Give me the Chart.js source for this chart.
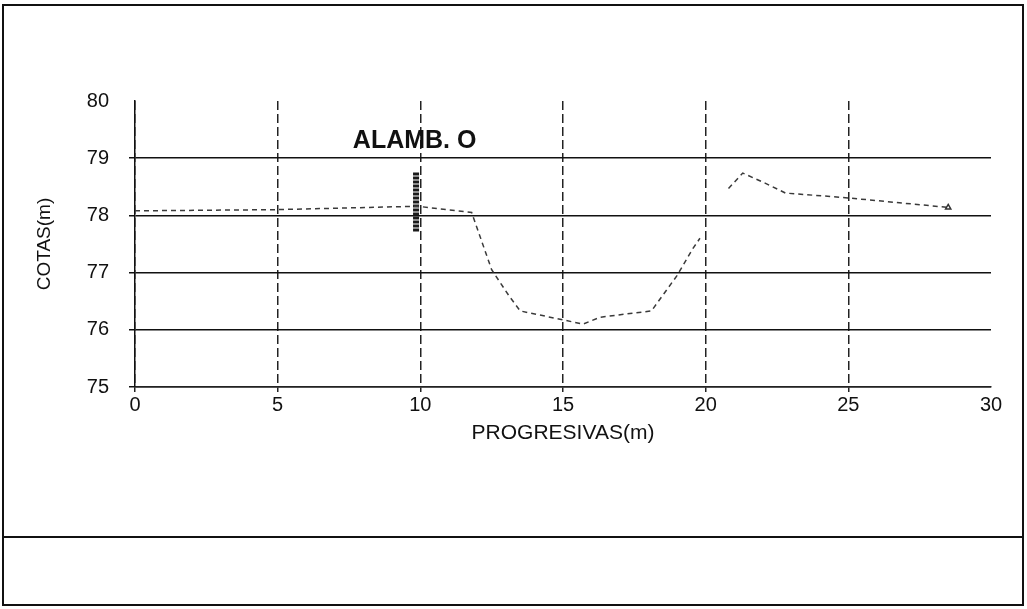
<!DOCTYPE html>
<html>
<head>
<meta charset="utf-8">
<script src="https://cdn.jsdelivr.net/npm/chart.js@4/dist/chart.umd.min.js"></script>
<style>
  html, body { margin: 0; padding: 0; background: #fff; }
  #wrap { position: relative; width: 1027px; height: 609px; }
</style>
</head>
<body>
<div id="wrap"><canvas id="perfil"></canvas></div>
<script>
Chart.defaults.font.family = 'Arial, "Liberation Sans", sans-serif';
Chart.defaults.color = '#111';

// perfil del terreno: progresivas (m) y cotas (m); null = tramo sin dato
var progresivas = [0, 4.9, 9.9, 11.8, 12.5, 13.1, 13.5, 15.7, 16.3, 18.1, 19.0, 19.55, 19.8, 20.3, 20.8, 21.3, 22.1, 22.8, 24.9, 28.5];
var cotas       = [78.08, 78.1, 78.16, 78.05, 77.05, 76.6, 76.33, 76.1, 76.22, 76.33, 76.95, 77.42, 77.6, null, 78.47, 78.74, 78.56, 78.39, 78.31, 78.14];

// alambrado
var alambX = [9.85, 9.85];
var alambY = [77.72, 78.75];
var alambTexto = 'ALAMB. O';
var alambTextoPos = [9.8, 79.3];

var xTicks = [0, 5, 10, 15, 20, 25, 30];
var yTicks = [75, 76, 77, 78, 79, 80];

function pts(xs, ys) {
    return xs.map(function (x, i) { return { x: x, y: ys[i] }; });
}

// marco del dibujo y texto del alambrado
var marco = {
    id: 'marco',
    beforeDraw: function (chart) {
        var c = chart.ctx;
        c.save();
        c.fillStyle = '#fff';
        c.fillRect(0, 0, chart.width, chart.height);
        c.strokeStyle = '#111';
        c.lineWidth = 2;
        c.strokeRect(3, 5, 1020, 600);
        c.beginPath();
        c.moveTo(3, 537);
        c.lineTo(1023, 537);
        c.stroke();
        c.restore();
    },
    afterDraw: function (chart) {
        var c = chart.ctx;
        var xs = chart.scales.x, ys = chart.scales.y;
        c.save();
        c.font = 'bold 25px Arial, "Liberation Sans", sans-serif';
        c.fillStyle = '#111';
        c.textAlign = 'center';
        c.textBaseline = 'middle';
        c.fillText(alambTexto, xs.getPixelForValue(alambTextoPos[0]), ys.getPixelForValue(alambTextoPos[1]));
        c.restore();
    }
};

var ctx = document.getElementById('perfil');
var chart = new Chart(ctx, {
    type: 'line',
    plugins: [marco],
    data: {
        datasets: [
            {
                label: 'Terreno',
                data: pts(progresivas, cotas),
                borderColor: '#3a3a3a',
                borderWidth: 1.5,
                borderDash: [5, 4],
                spanGaps: false,
                pointRadius: function (c) { return c.dataIndex === progresivas.length - 1 ? 3 : 0; },
                pointStyle: 'triangle',
                pointBackgroundColor: '#fff',
                pointBorderColor: '#333',
                tension: 0,
            },
            {
                label: 'Alambrado',
                data: pts(alambX, alambY),
                borderColor: '#1a1a1a',
                borderWidth: 6,
                borderDash: [3, 1],
                pointRadius: 0,
            },
        ]
    },
    options: {
        responsive: true,
        maintainAspectRatio: false,
        animation: false,
        layout: {
            padding: { left: 0, top: 101, right: 36, bottom: 159 },
        },
        plugins: {
            legend: { display: false },
            tooltip: { enabled: false },
        },
        scales: {
            x: {
                type: 'linear',
                min: 0,
                max: 30,
                afterBuildTicks: function (s) { s.ticks = xTicks.map(function (v) { return { value: v }; }); },
                afterFit: function (s) { s.height = 63; },
                ticks: {
                    font: { size: 20 },
                    color: '#111',
                    padding: 1,
                },
                grid: {
                    color: function (c) { return c.tick && c.tick.value === 30 ? 'rgba(0,0,0,0)' : '#222'; },
                    lineWidth: 1.5,
                    tickLength: 5,
                },
                // trazos de la rejilla vertical
                border: {
                    display: true,
                    color: '#222',
                    width: 1.5,
                    dash: [9, 4],
                },
                title: {
                    display: true,
                    text: 'PROGRESIVAS(m)',
                    font: { size: 21 },
                    color: '#111',
                    padding: 4,
                },
            },
            y: {
                min: 75,
                max: 80,
                afterBuildTicks: function (s) { s.ticks = yTicks.map(function (v) { return { value: v }; }); },
                afterFit: function (s) { s.width = 135; },
                ticks: {
                    font: { size: 20 },
                    color: '#111',
                    padding: 20,
                },
                grid: {
                    color: function (c) { return c.tick && c.tick.value === 80 ? 'rgba(0,0,0,0)' : '#111'; },
                    lineWidth: 1.5,
                    tickLength: 6,
                },
                border: {
                    display: true,
                    color: '#111',
                    width: 1.5,
                },
                title: {
                    display: true,
                    text: 'COTAS(m)',
                    font: { size: 19 },
                    color: '#111',
                    padding: { top: 33, bottom: 4 },
                },
            },
        },
    },
});
</script>
</body>
</html>
